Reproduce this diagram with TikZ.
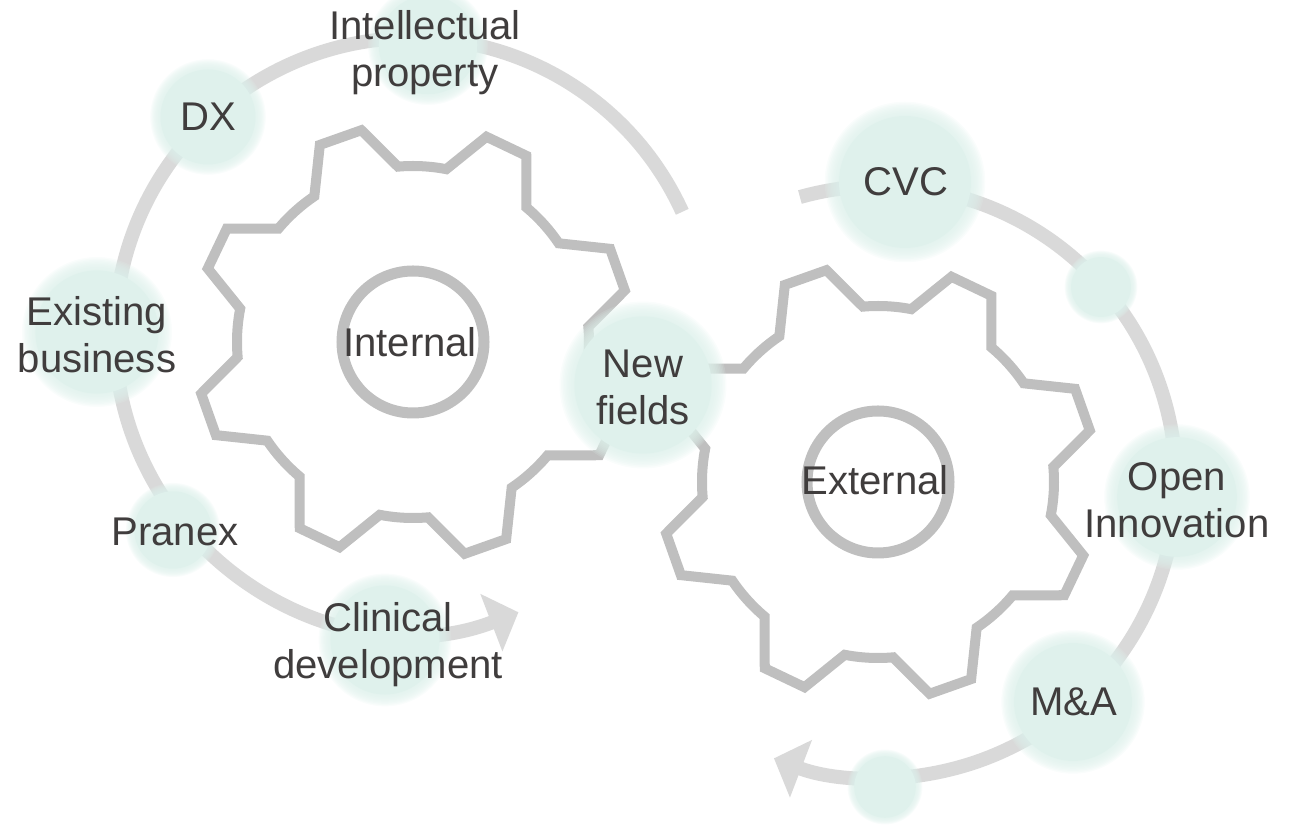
\documentclass[tikz,border=0pt]{standalone}
\usepackage{fontspec}
\setmainfont{Liberation Sans}
\usetikzlibrary{arrows.meta}
\definecolor{mint}{RGB}{223,241,236}
\definecolor{txtgray}{RGB}{64,61,61}

\begin{document}
\begin{tikzpicture}[x=0.01cm, y=-0.01cm,
  gearline/.style={black!25, line width=1mm},
  hubline/.style={black!25, line width=1.1mm},
  cycleline/.style={black!15, line width=1.4mm, -{Triangle[length=2.9mm, width=6mm]}},
  txt/.style={text=txtgray, font=\fontsize{11.4}{13.4}\selectfont, align=center}]
\useasboundingbox (0,0) rectangle (1293,825);
\coordinate (L) at (412,335);
\coordinate (R) at (880,482);
% the two loops
\draw[cycleline] (L) ++(-24.5:297) arc[start angle=-24.5, end angle=-291, radius=297];
\draw[cycleline] (R) ++(-105.7:296) arc[start angle=-105.7, end angle=111, radius=296];
% gears
\foreach \cx/\cy in {413/342, 878/482} {
 \begin{scope}[shift={(\cx,\cy)}]
  \draw[gearline] (10.9:176) \foreach \k [evaluate=\k as \a using 25.5+45*\k] in {0,...,7} {
    -- (\a-5.8:218) -- (\a+5.8:218) -- (\a+14.6:176) arc[start angle=\a+14.6, end angle=\a+30.4, radius=176]
  } -- cycle;
  \draw[hubline] (0,0) circle[radius=71];
 \end{scope}
}
% soft dots
\foreach \x/\y/\r in {428/45/56, 208/117/54, 97/332/70, 173/530/44, 385/640/62, 643/385/78,
                      905/182/75, 1101/287/34, 1177/497/68, 1073/702/67, 885/787/35} {
 \foreach \s in {1.07,1.05,1.03,1.01,0.99,0.97,0.95,0.93,0.91,0.89}
  \fill[mint, opacity=0.17] (\x,\y) circle[radius=\s*\r];
 \fill[mint] (\x,\y) circle[radius=0.88*\r];
}
% labels
\node[txt] (ip) at (425,53) {Intellectual\\property};
\node[txt] (dx) at (208,117) {DX};
\node[txt] (eb) at (97,335) {Existing\\business};
\node[txt] (pr) at (175,532) {Pranex};
\node[txt] (cd) at (388,645) {Clinical\\development};
\node[txt] (nf) at (643,387) {New\\fields};
\node[txt] (cvc) at (906,182) {CVC};
\node[txt] (oi) at (1177,500) {Open\\Innovation};
\node[txt] (ma) at (1074,702) {M\&A};
\node[txt] (in) at (410,342) {Internal};
\node[txt] (ex) at (875,480) {External};
\end{tikzpicture}
\end{document}
